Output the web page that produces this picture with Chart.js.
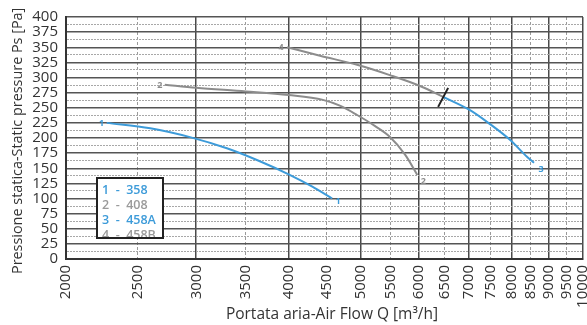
<!DOCTYPE html>
<html>
<head>
<meta charset="utf-8">
<script src="https://cdn.jsdelivr.net/npm/chart.js@4"></script>
<style>
  html, body { margin: 0; padding: 0; background: #fff; }
  #wrap { width: 587px; height: 325px; }
</style>
</head>
<body>
<div id="wrap"><canvas id="myChart" width="587" height="325"></canvas></div>
<script>
// axis ticks
const flowTicks = [2000, 2500, 3000, 3500, 4000, 4500, 5000, 5500, 6000, 6500, 7000, 7500, 8000, 8500, 9000, 9500, 10000];
const pressureTicks = [0, 25, 50, 75, 100, 125, 150, 175, 200, 225, 250, 275, 300, 325, 350, 375, 400];

// curves (flow m3/h, static pressure Pa)
const flow358 = [2270, 2600, 2950, 3300, 3650, 4000, 4300, 4580];
const ps358 = [225, 216, 201, 183, 162, 140, 120, 100];

const flow408 = [2720, 3000, 3500, 4000, 4450, 4700, 4950, 5230, 5480, 5750, 5970];
const ps408 = [288, 283, 277, 271, 263, 253, 238, 220, 202, 172, 139];

const flow458B = [3980, 4410, 4950, 5480, 6020, 6470];
const ps458B = [350, 336, 321, 304, 286, 268];

const flow458A = [6470, 7035, 7485, 7966, 8400, 8586];
const ps458A = [268, 246, 223, 197, 169, 159];

const seriesNames = ['358', '408', '458A', '458B'];
const BLUE = '#3d9bd9';
const GREY = '#8c8c8c';

const toPoints = (xs, ys) => xs.map((x, i) => ({ x: x, y: ys[i] }));

// little numbers at curve ends + the cut mark between 458B and 458A
const curveMarks = {
  id: 'curveMarks',
  afterDatasetsDraw(chart) {
    const ctx = chart.ctx;
    const pt = (ds, idx) => chart.getDatasetMeta(ds).data[idx];
    const label = (txt, ds, idx, dx, dy) => {
      const p = pt(ds, idx);
      ctx.fillStyle = chart.data.datasets[ds].borderColor;
      ctx.fillText(txt, p.x + dx, p.y + dy);
    };
    ctx.save();
    ctx.font = 'bold 9px "Open Sans"';
    ctx.textAlign = 'center';
    ctx.textBaseline = 'middle';
    label('1', 0, 0, -5, 1);
    label('1', 0, flow358.length - 1, 6, 3);
    label('2', 1, 0, -5, 1);
    label('2', 1, flow408.length - 1, 6, 7);
    label('4', 3, 0, -6, 0);
    label('3', 2, flow458A.length - 1, 7, 7);

    const j = pt(2, 0);
    ctx.strokeStyle = '#222';
    ctx.lineWidth = 2;
    ctx.beginPath();
    ctx.moveTo(j.x - 5, j.y + 10);
    ctx.lineTo(j.x + 5, j.y - 9);
    ctx.stroke();
    ctx.restore();
  }
};

// boxed legend inside the plot + axis titles
const extras = {
  id: 'extras',
  afterDraw(chart) {
    const ctx = chart.ctx;
    ctx.save();
    // legend box
    const bx = 97, by = 178, bw = 66, bh = 60;
    ctx.fillStyle = '#fff';
    ctx.fillRect(bx, by, bw, bh);
    ctx.save();
    ctx.beginPath();
    ctx.rect(bx, by, bw, bh);
    ctx.clip();
    ctx.font = '600 12.5px "Open Sans"';
    ctx.textBaseline = 'middle';
    ctx.textAlign = 'left';
    seriesNames.forEach((n, i) => {
      ctx.fillStyle = i % 2 === 0 ? BLUE : '#9a9a9a';
      ctx.fillText((i + 1) + '  -  ' + n, bx + 5, by + 12 + i * 15);
    });
    ctx.restore();
    ctx.strokeStyle = '#222';
    ctx.lineWidth = 2;
    ctx.strokeRect(bx, by, bw, bh);

    // axis titles
    ctx.fillStyle = '#333';
    ctx.font = '15.5px "Open Sans"';
    ctx.textAlign = 'center';
    ctx.textBaseline = 'middle';
    ctx.fillText('Portata aria-Air Flow Q [m\u00B3/h]', 332, 315);

    ctx.font = '14.4px "Open Sans"';
    ctx.translate(18, 274);
    ctx.rotate(-Math.PI / 2);
    ctx.textAlign = 'left';
    ctx.fillText('Pressione statica-Static pressure Ps [Pa]', 0, 0);
    ctx.restore();
  }
};

const yGrid = [];
pressureTicks.forEach((v, i) => {
  yGrid.push(v);
  if (i < pressureTicks.length - 1) yGrid.push(v + 12.5);
});

new Chart(document.getElementById('myChart'), {
  type: 'line',
  data: {
    datasets: [
      { label: seriesNames[0], data: toPoints(flow358, ps358), borderColor: BLUE },
      { label: seriesNames[1], data: toPoints(flow408, ps408), borderColor: GREY },
      { label: seriesNames[2], data: toPoints(flow458A, ps458A), borderColor: BLUE },
      { label: seriesNames[3], data: toPoints(flow458B, ps458B), borderColor: GREY }
    ]
  },
  options: {
    responsive: false,
    animation: false,
    devicePixelRatio: 1,
    layout: { padding: { top: 17, right: 4, left: 0, bottom: 0 } },
    elements: {
      line: { borderWidth: 2, cubicInterpolationMode: 'monotone', fill: false },
      point: { radius: 0 }
    },
    plugins: {
      legend: { display: false },
      tooltip: { enabled: false }
    },
    scales: {
      x: {
        type: 'logarithmic',
        min: 2000,
        max: 10000,
        afterBuildTicks: (s) => { s.ticks = flowTicks.map(v => ({ value: v })); },
        afterFit: (s) => { s.height = 66; s.paddingLeft = 0; s.paddingRight = 0; },
        ticks: {
          autoSkip: false,
          maxRotation: 90,
          minRotation: 90,
          padding: 6,
          color: '#333',
          font: { family: 'Open Sans', size: 15 },
          callback: (v) => String(v)
        },
        grid: {
          drawTicks: false,
          color: (c) => c.tick && c.tick.value % 1000 === 0 ? '#4a4a4a' : '#9a9a9a',
          lineWidth: (c) => c.tick && c.tick.value % 1000 === 0 ? 1.5 : 1
        },
        border: {
          color: '#333',
          width: 2,
          dash: (c) => c.tick && c.tick.value % 1000 !== 0 ? [3, 2] : []
        }
      },
      y: {
        min: 0,
        max: 400,
        afterBuildTicks: (s) => { s.ticks = yGrid.map(v => ({ value: v })); },
        afterFit: (s) => { s.width = 66; s.paddingTop = 0; s.paddingBottom = 0; },
        ticks: {
          autoSkip: false,
          padding: 8,
          color: '#333',
          font: { family: 'Open Sans', size: 15 },
          callback: (v) => v % 25 === 0 ? String(v) : ''
        },
        grid: {
          drawTicks: false,
          color: (c) => c.tick && c.tick.value % 25 === 0 ? '#555' : '#a8a8a8',
          lineWidth: (c) => c.tick && c.tick.value % 25 === 0 ? 1.5 : 1
        },
        border: {
          color: '#333',
          width: 2,
          dash: (c) => c.tick && c.tick.value % 25 !== 0 ? [2, 1] : []
        }
      }
    }
  },
  plugins: [curveMarks, extras]
});
</script>
</body>
</html>
